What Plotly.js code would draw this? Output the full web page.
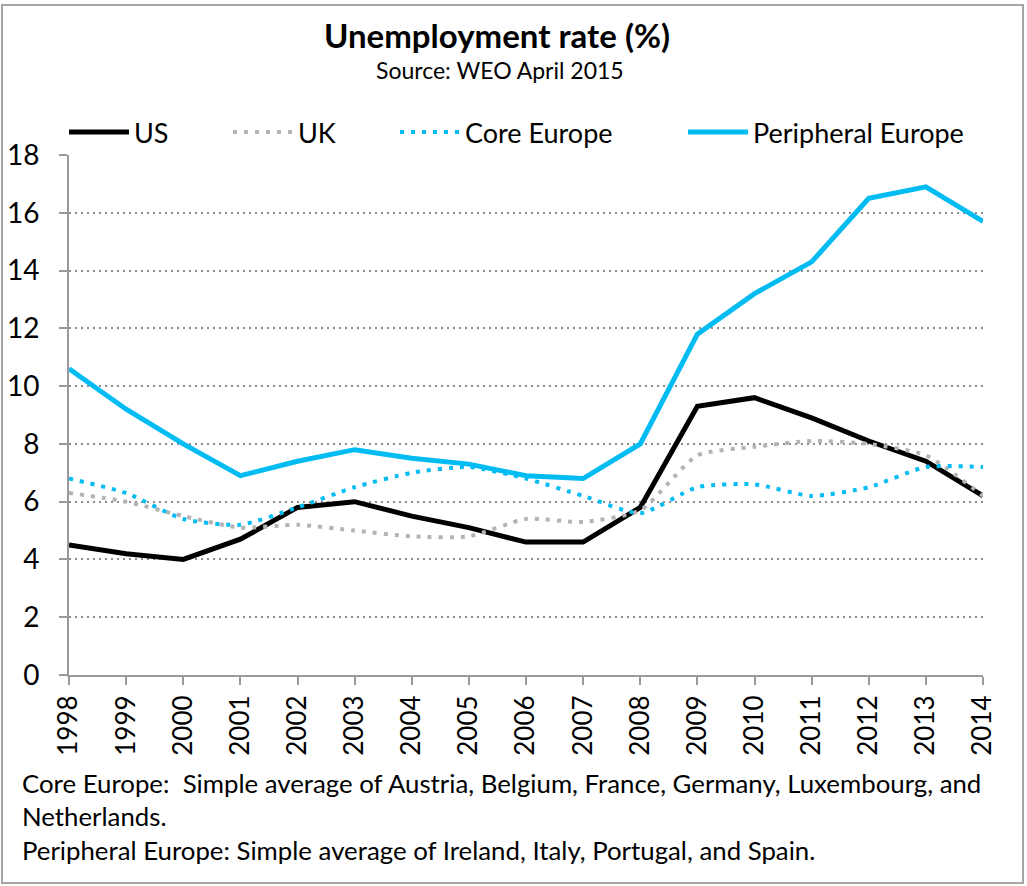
<!DOCTYPE html>
<html>
<head>
<meta charset="utf-8">
<script src="https://cdn.plot.ly/plotly-3.0.1.min.js"></script>
<style>
  body { margin: 0; background: #fff; }
  #chart { width: 1027px; height: 886px; position: absolute; left: 0; top: 0; }
  #frame { position: absolute; left: 1px; top: 4px; width: 1019px; height: 876px;
           border: 2px solid #a6a6a6; pointer-events: none; }
</style>
</head>
<body>
<div id="chart"></div>
<div id="frame"></div>
<script>
// Unemployment rate (%), WEO April 2015
const years = ['1998', '1999', '2000', '2001', '2002', '2003', '2004', '2005', '2006',
               '2007', '2008', '2009', '2010', '2011', '2012', '2013', '2014'];
const usRate = [4.5, 4.2, 4.0, 4.7, 5.8, 6.0, 5.5, 5.1, 4.6, 4.6, 5.8, 9.3, 9.6, 8.9, 8.1, 7.4, 6.2];
const ukRate = [6.3, 6.0, 5.5, 5.1, 5.2, 5.0, 4.8, 4.8, 5.4, 5.3, 5.7, 7.6, 7.9, 8.1, 8.0, 7.6, 6.2];
const coreRate = [6.8, 6.3, 5.4, 5.2, 5.8, 6.5, 7.0, 7.2, 6.8, 6.2, 5.6, 6.5, 6.6, 6.2, 6.5, 7.2, 7.2];
const periRate = [10.6, 9.2, 8.0, 6.9, 7.4, 7.8, 7.5, 7.3, 6.9, 6.8, 8.0, 11.8, 13.2, 14.3, 16.5, 16.9, 15.7];
const yTicks = [0, 2, 4, 6, 8, 10, 12, 14, 16, 18];

const W = 1027, H = 886;
const M = { l: 69, r: 44, t: 155, b: 211 };
const FONT = 'Lato, "Open Sans", sans-serif';

// pixel -> paper helpers for text / legend placement
const px = x => (x - M.l) / (W - M.l - M.r);
const py = y => (H - M.b - y) / (H - M.t - M.b);

const traces = [
    {
        x: years, y: usRate, name: 'US', type: 'scatter', mode: 'lines', legend: 'legend',
        line: { color: '#000000', width: 5 }
    },
    {
        x: years, y: ukRate, name: 'UK', type: 'scatter', mode: 'lines', legend: 'legend2',
        line: { color: '#b4b4b4', width: 4, dash: '4px,7px', shape: 'spline', smoothing: 0.6 }
    },
    {
        x: years, y: coreRate, name: 'Core Europe', type: 'scatter', mode: 'lines', legend: 'legend3',
        line: { color: '#00bcf2', width: 4, dash: '4px,7px', shape: 'spline', smoothing: 0.6 }
    },
    {
        x: years, y: periRate, name: 'Peripheral Europe', type: 'scatter', mode: 'lines', legend: 'legend4',
        line: { color: '#00bcf2', width: 5 }
    }
];

// one legend box per entry so each can sit where the original puts it
function legendAt(xPix) {
    return {
        orientation: 'h', x: px(xPix), y: py(108), xanchor: 'left', yanchor: 'top',
        font: { size: 27, family: FONT }, itemwidth: 60, bgcolor: 'rgba(0,0,0,0)'
    };
}

const layout = {
    width: W, height: H,
    margin: M,
    paper_bgcolor: '#ffffff',
    plot_bgcolor: '#ffffff',
    font: { family: FONT, color: '#000', size: 24 },
    showlegend: true,
    legend: legendAt(64),
    legend2: legendAt(228),
    legend3: legendAt(395),
    legend4: legendAt(683),
    xaxis: {
        type: 'category', range: [0, years.length - 1],
        showline: true, linecolor: '#9a9a9a', linewidth: 2,
        ticks: 'outside', ticklen: 8, tickcolor: '#9a9a9a', tickwidth: 2,
        tickangle: -90, tickfont: { size: 26, family: FONT },
        showgrid: false, zeroline: false
    },
    yaxis: {
        range: [0, 18], tickvals: yTicks,
        showline: true, linecolor: '#9a9a9a', linewidth: 2,
        ticks: 'outside', ticklen: 8, tickcolor: '#9a9a9a', tickwidth: 2,
        tickfont: { size: 28, family: FONT }, ticklabelstandoff: 14,
        showgrid: true, gridcolor: '#8c8c8c', gridwidth: 2, griddash: '2px,4px',
        zeroline: false
    },
    annotations: [
        {
            text: '<b>Unemployment rate (%)</b>', xref: 'paper', yref: 'paper',
            x: px(497), y: py(35), xanchor: 'center', yanchor: 'middle', showarrow: false,
            font: { size: 33, family: FONT }
        },
        {
            text: 'Source: WEO April 2015', xref: 'paper', yref: 'paper',
            x: px(500), y: py(70), xanchor: 'center', yanchor: 'middle', showarrow: false,
            font: { size: 23, family: FONT }
        },
        {
            text: 'Core Europe:  Simple average of Austria, Belgium, France, Germany, Luxembourg, and',
            xref: 'paper', yref: 'paper', x: px(20), y: py(783), xanchor: 'left', yanchor: 'middle',
            showarrow: false, font: { size: 25.8, family: FONT }
        },
        {
            text: 'Netherlands.',
            xref: 'paper', yref: 'paper', x: px(20), y: py(816), xanchor: 'left', yanchor: 'middle',
            showarrow: false, font: { size: 25.8, family: FONT }
        },
        {
            text: 'Peripheral Europe: Simple average of Ireland, Italy, Portugal, and Spain.',
            xref: 'paper', yref: 'paper', x: px(20), y: py(850), xanchor: 'left', yanchor: 'middle',
            showarrow: false, font: { size: 25.8, family: FONT }
        }
    ]
};

Plotly.newPlot('chart', traces, layout, { staticPlot: true, displayModeBar: false });
</script>
</body>
</html>
